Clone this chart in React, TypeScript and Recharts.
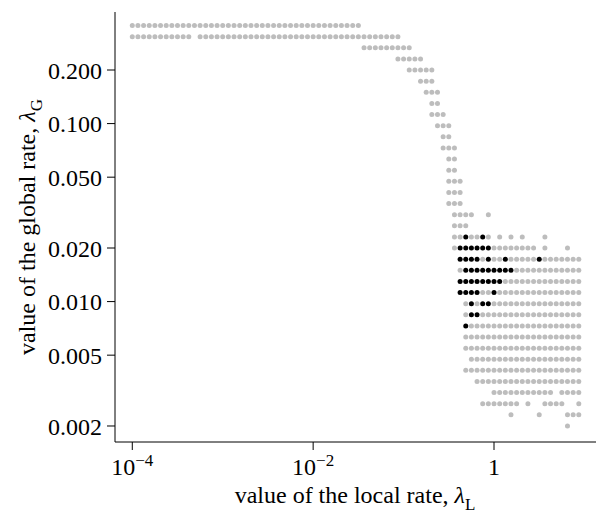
import React from "react";
import { ScatterChart, Scatter, XAxis, YAxis, Label } from "recharts";

// ── Parameter grid (both rates swept at 16 steps per decade) ──────────────

const LOCAL_START = 1e-4;
const GLOBAL_START = 0.002;
const STEPS_PER_DECADE = 16;

// row index on the global-rate grid, top row first
const rowIndex = [
  36, 35, 34, 33, 32, 31, 30, 29, 28, 27, 26, 25, 24, 23, 22, 21, 20, 19,
  18, 17, 16, 15, 14, 13, 12, 11, 10, 9, 8, 7, 6, 5, 4, 3, 2, 1, 0,
];

// column runs [from, to] on the local-rate grid, one entry per row above
const cellRuns: number[][][] = [
  [[0, 40]],
  [[0, 10], [12, 47]],
  [[41, 49]],
  [[47, 51]],
  [[49, 53]],
  [[51, 53]],
  [[52, 54]],
  [[53, 54]],
  [[53, 55]],
  [[54, 56]],
  [[55, 56]],
  [[55, 57]],
  [[56, 57]],
  [[56, 57]],
  [[56, 58]],
  [[56, 58]],
  [[56, 58]],
  [[57, 60], [63, 63]],
  [[57, 59]],
  [[57, 63], [65, 65], [67, 67], [69, 69], [73, 73]],
  [[57, 71], [73, 73], [77, 77]],
  [[58, 79]],
  [[58, 79]],
  [[58, 79]],
  [[58, 79]],
  [[59, 79]],
  [[59, 79]],
  [[59, 79]],
  [[59, 79]],
  [[59, 79]],
  [[60, 79]],
  [[59, 79]],
  [[61, 79]],
  [[64, 74], [76, 79]],
  [[62, 68], [70, 70], [73, 76], [79, 79]],
  [[67, 67], [72, 72], [77, 79]],
  [[77, 77]],
];

// highlighted (black) cells
const blackRows = [17, 16, 15, 14, 13, 12, 11, 10, 9];
const blackCols = [
  [59, 62],
  [58, 59, 60, 61, 62, 63],
  [58, 59, 60, 61, 63, 66, 72],
  [59, 60, 61, 62, 63, 64, 65, 66, 67],
  [58, 59, 60, 61, 62, 63, 64, 65],
  [58, 59, 60, 61, 64],
  [60, 62, 63],
  [60, 61],
  [59],
];

const xTicks = [1e-4, 1e-2, 1];
const xTickExp = ["−4", "−2", ""];
const yTicks = [0.002, 0.005, 0.01, 0.02, 0.05, 0.1, 0.2];

// ── Build point lists ──────────────────────────────────────────────────────

const localAt = (k: number) => LOCAL_START * 10 ** (k / STEPS_PER_DECADE);
const globalAt = (j: number) => GLOBAL_START * 10 ** (j / STEPS_PER_DECADE);

const isBlack = (j: number, k: number) => {
  const r = blackRows.indexOf(j);
  return r >= 0 && blackCols[r].includes(k);
};

const grayPoints: { x: number; y: number }[] = [];
rowIndex.forEach((j, r) => {
  cellRuns[r].forEach(([a, b]) => {
    for (let k = a; k <= b; k++) {
      if (!isBlack(j, k)) grayPoints.push({ x: localAt(k), y: globalAt(j) });
    }
  });
});

const blackPoints: { x: number; y: number }[] = [];
blackRows.forEach((j, r) => {
  blackCols[r].forEach((k) => blackPoints.push({ x: localAt(k), y: globalAt(j) }));
});

// ── Styling ────────────────────────────────────────────────────────────────

const FONT = "'Liberation Serif', 'Times New Roman', serif";
const FS = 24;
const SUB = 17;

const Dot = (color: string) => (p: any) =>
  <circle cx={p.cx} cy={p.cy} r={2.5} fill={color} />;

function XTick(props: any) {
  const { x, payload, index } = props;
  const exp = xTickExp[index] ?? "";
  return (
    <text x={x} y={475} textAnchor="middle" fontFamily={FONT} fontSize={FS} fill="#000">
      {payload.value === 1 ? "1" : "10"}
      {exp && (
        <tspan dy={-9} fontSize={SUB}>
          {exp}
        </tspan>
      )}
    </text>
  );
}

export default function App() {
  return (
    <div style={{ position: "absolute", left: 0, top: 0, background: "#fff" }}>
      <ScatterChart
        width={598}
        height={515}
        margin={{ top: 12, right: 2, bottom: 0, left: 0 }}
      >
        <XAxis
          type="number"
          dataKey="x"
          scale="log"
          domain={[6.44e-5, 13.42]}
          allowDataOverflow
          ticks={xTicks}
          tick={<XTick />}
          tickSize={8}
          height={73}
          axisLine={{ stroke: "#000" }}
          tickLine={{ stroke: "#000" }}
          label={
            <Label
              content={() => (
                <text x={355} y={503} textAnchor="middle" fontFamily={FONT} fontSize={FS} fill="#000">
                  value of the local rate, <tspan fontStyle="italic">λ</tspan>
                  <tspan dy={7} fontSize={SUB}>L</tspan>
                </text>
              )}
            />
          }
        />
        <YAxis
          type="number"
          dataKey="y"
          scale="log"
          domain={[0.001626, 0.4236]}
          allowDataOverflow
          ticks={yTicks}
          tickFormatter={(v: number) => v.toFixed(3)}
          tick={{ fill: "#000", fontSize: FS, fontFamily: FONT }}
          tickSize={8}
          tickMargin={5}
          width={115}
          axisLine={{ stroke: "#000" }}
          tickLine={{ stroke: "#000" }}
          label={
            <Label
              content={() => (
                <text
                  transform="translate(35,227) rotate(-90)"
                  textAnchor="middle"
                  fontFamily={FONT}
                  fontSize={FS}
                  fill="#000"
                >
                  value of the global rate, <tspan fontStyle="italic">λ</tspan>
                  <tspan dy={7} fontSize={SUB}>G</tspan>
                </text>
              )}
            />
          }
        />
        <Scatter data={grayPoints} shape={Dot("#bdbdbd")} isAnimationActive={false} />
        <Scatter data={blackPoints} shape={Dot("#000")} isAnimationActive={false} />
      </ScatterChart>
    </div>
  );
}
